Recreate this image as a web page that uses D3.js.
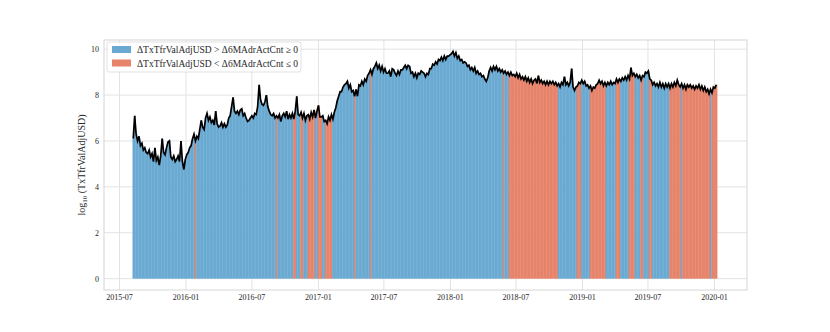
<!DOCTYPE html>
<html>
<head>
<meta charset="utf-8">
<script src="https://cdn.jsdelivr.net/npm/d3@7"></script>
<style>
html,body{margin:0;padding:0;background:#fff;}
svg text{font-family:"Liberation Serif","DejaVu Serif",serif;fill:#262626;}
</style>
</head>
<body>
<svg id="chart" width="830" height="332"></svg>
<script>
// ---- data (log10 of TxTfrValAdjUSD, one reading every 4 days from 2015-08-08) ----
const startDate = "2015-08-08";
const stepDays = 4;
const values = [
6.1,7.1,6.3,6.0,6.2,5.8,5.9,5.6,5.7,5.5,
5.45,5.6,5.3,5.45,5.1,5.7,5.15,5.3,4.95,5.35,
6.1,5.5,5.4,5.7,5.95,6.0,5.3,5.2,5.35,5.1,
5.2,5.35,5.1,6.0,5.1,4.75,5.2,5.4,5.5,5.7,
5.8,6.1,6.3,6.0,6.2,6.1,6.5,6.9,6.6,6.5,
7.0,7.2,6.9,7.05,6.8,6.9,6.7,7.3,6.75,6.6,
6.65,6.8,6.6,6.75,6.6,6.7,7.0,7.1,7.5,7.9,
7.3,7.2,7.3,7.15,7.35,7.4,7.1,7.2,7.0,6.85,
6.9,7.0,7.1,7.0,7.2,7.15,7.5,8.45,7.8,7.6,
7.55,7.7,8.0,7.5,7.3,7.15,7.1,7.2,7.0,7.1,
7.0,7.15,6.85,7.1,7.2,7.05,7.3,6.95,7.15,7.0,
7.2,6.95,7.3,7.95,7.15,7.1,7.25,7.0,7.2,6.9,
7.1,7.15,6.95,7.25,7.05,7.35,7.0,7.3,7.55,7.05,
7.05,7.1,6.85,6.9,6.75,7.05,6.9,7.15,6.95,7.25,
7.45,7.75,7.95,8.15,8.15,8.35,8.45,8.5,8.6,8.3,
8.45,8.15,8.2,7.95,8.25,7.95,8.45,8.4,8.6,8.45,
8.7,8.6,8.85,8.95,9.1,8.9,9.15,9.25,9.4,9.15,
9.3,9.05,9.25,9.0,9.15,8.95,8.95,9.05,8.8,9.15,
9.1,8.95,8.85,9.05,8.9,9.1,9.1,9.2,9.3,9.15,
9.3,9.25,8.95,9.0,8.8,8.95,8.75,8.95,8.9,9.05,
9.0,8.95,8.8,8.95,8.9,9.15,9.15,9.35,9.3,9.45,
9.35,9.55,9.5,9.65,9.5,9.7,9.55,9.7,9.7,9.75,
9.8,9.9,9.7,9.85,9.6,9.7,9.5,9.55,9.4,9.45,
9.4,9.25,9.3,9.1,9.2,9.05,9.2,8.95,9.05,8.9,
8.95,8.8,8.85,8.7,8.6,8.75,9.05,9.2,9.05,9.25,
9.1,9.25,9.05,9.15,9.0,9.1,8.95,9.05,8.9,9.0,
8.85,9.0,8.85,8.9,8.8,8.95,8.75,8.9,8.7,8.8,
8.65,8.8,8.6,8.75,8.55,8.7,8.5,8.65,8.7,8.5,
8.85,8.55,8.65,8.5,8.6,8.45,8.6,8.45,8.6,8.5,
8.6,8.45,8.55,8.4,8.5,8.35,8.55,8.45,8.8,8.45,
8.55,8.4,8.55,9.15,8.35,8.2,8.35,8.4,8.55,8.5,
8.65,8.5,8.6,8.4,8.45,8.3,8.4,8.2,8.35,8.3,
8.45,8.5,8.65,8.5,8.6,8.4,8.55,8.4,8.55,8.45,
8.6,8.45,8.55,8.5,8.7,8.55,8.7,8.6,8.75,8.65,
8.8,8.65,8.85,8.7,9.2,8.85,8.95,8.8,8.9,8.75,
8.85,8.65,8.85,8.8,9.0,8.95,9.05,8.7,8.65,8.45,
8.55,8.4,8.5,8.35,8.55,8.35,8.5,8.3,8.5,8.35,
8.5,8.3,8.5,8.35,8.55,8.4,8.65,8.45,8.35,8.5,
8.3,8.45,8.25,8.45,8.35,8.45,8.3,8.4,8.25,8.4,
8.3,8.45,8.25,8.4,8.2,8.35,8.15,8.25,8.05,8.25,
8.1,8.35,8.3,8.45
];
// periods where ΔTxTfrValAdjUSD < Δ6MAdrActCnt ≤ 0 (red); all other days are blue
const redStarts = ["2016-01-24","2016-09-05","2016-10-23","2016-11-14","2016-12-03","2016-12-31","2017-01-19","2017-04-08","2017-05-22","2018-05-25","2018-06-11","2018-12-18","2019-01-20","2019-04-05","2019-05-08","2019-06-10","2019-07-05","2019-08-29","2019-10-04","2019-11-07","2019-12-22"];
const redEnds   = ["2016-01-29","2016-09-09","2016-10-29","2016-11-20","2016-12-20","2017-01-11","2017-02-05","2017-04-12","2017-05-26","2018-05-29","2018-10-24","2018-12-26","2019-03-03","2019-04-13","2019-05-22","2019-06-16","2019-07-10","2019-09-30","2019-11-03","2019-12-19","2020-01-11"];
const yTicks = [0,2,4,6,8,10];
const xTickDates = ["2015-07-01","2016-01-01","2016-07-01","2017-01-01","2017-07-01","2018-01-01","2018-07-01","2019-01-01","2019-07-01","2020-01-01"];
const legendLabels = ["ΔTxTfrValAdjUSD > Δ6MAdrActCnt ≥ 0","ΔTxTfrValAdjUSD < Δ6MAdrActCnt ≤ 0"];
const colors = ["#6aaad2","#e6836a"];

// ---- build ----
const parse = d3.utcParse("%Y-%m-%d");
const fmt = d3.utcFormat("%Y-%m");
const t0 = parse(startDate);
const data = values.map((v,i)=>({date:d3.utcDay.offset(t0,i*stepDays), v}));
const red = redStarts.map((s,i)=>[parse(s), d3.utcDay.offset(parse(redEnds[i]),1)]);
data.forEach(d=>{
  const a = d3.utcDay.offset(d.date,-stepDays/2), b = d3.utcDay.offset(d.date,stepDays/2);
  let isRed=false;
  red.forEach(([s,e])=>{ const ov = Math.min(b,e)-Math.max(a,s); if(ov >= (b-a)*0.5 || (ov>0 && (e-s)<(b-a))) isRed=true; });
  d.red=isRed;
});

const svg = d3.select("#chart");
const L=104, R=747, T=40, B=290;
const first = data[0].date, last = d3.utcDay.offset(data[data.length-1].date, stepDays);
const span = last-first;
const x = d3.scaleUtc().domain([new Date(+first-span*0.05), new Date(+last+span*0.05)]).range([L,R]);
const y = d3.scaleLinear().domain([-0.495,10.4]).range([B,T]);

// grid
const g = svg.append("g");
g.selectAll(".gy").data(yTicks).enter().append("line")
 .attr("x1",L).attr("x2",R).attr("y1",d=>y(d)).attr("y2",d=>y(d))
 .attr("stroke","#e3e3e3").attr("stroke-width",1);
g.selectAll(".gx").data(xTickDates.map(parse)).enter().append("line")
 .attr("y1",T).attr("y2",B).attr("x1",d=>x(d)).attr("x2",d=>x(d))
 .attr("stroke","#e3e3e3").attr("stroke-width",1);

// bars
const bw = x(d3.utcDay.offset(first,stepDays)) - x(first);
svg.append("g").selectAll("rect").data(data).enter().append("rect")
 .attr("x",d=>x(d.date)-bw/2).attr("width",bw+0.35)
 .attr("y",d=>y(d.v)).attr("height",d=>y(0)-y(d.v))
 .attr("fill",d=>d.red?colors[1]:colors[0]);

// line
svg.append("path").datum(data)
 .attr("d",d3.line().x(d=>x(d.date)).y(d=>y(d.v)))
 .attr("fill","none").attr("stroke","#000").attr("stroke-width",1.7).attr("stroke-linejoin","miter");

// frame
svg.append("rect").attr("x",L).attr("y",T).attr("width",R-L).attr("height",B-T)
 .attr("fill","none").attr("stroke","#d6d6d6").attr("stroke-width",1);

// axes labels
svg.append("g").selectAll("text").data(yTicks).enter().append("text")
 .attr("x",99).attr("y",d=>y(d)+3).attr("text-anchor","end").attr("font-size",8).text(d=>d);
svg.append("g").selectAll("text").data(xTickDates.map(parse)).enter().append("text")
 .attr("x",d=>x(d)).attr("y",300).attr("text-anchor","middle").attr("font-size",8).text(d=>fmt(d));

const yl = svg.append("text").attr("transform","translate(85,165) rotate(-90)")
 .attr("text-anchor","middle").attr("font-size",10);
yl.append("tspan").text("log");
yl.append("tspan").attr("font-size",7).attr("dy",2).text("10");
yl.append("tspan").attr("dy",-2).text(" (TxTfrValAdjUSD)");

// legend
const lg = svg.append("g");
lg.append("rect").attr("x",107).attr("y",42).attr("width",194).attr("height",30).attr("rx",2)
 .attr("fill","#fff").attr("fill-opacity",0.85).attr("stroke","#d9d9d9").attr("stroke-width",0.8);
legendLabels.forEach((t,i)=>{
  lg.append("rect").attr("x",112).attr("y",46+i*13.5).attr("width",19).attr("height",7).attr("fill",colors[i]);
  lg.append("text").attr("x",137).attr("y",53+i*13.5).attr("font-size",9.5).text(t);
});
</script>
</body>
</html>
